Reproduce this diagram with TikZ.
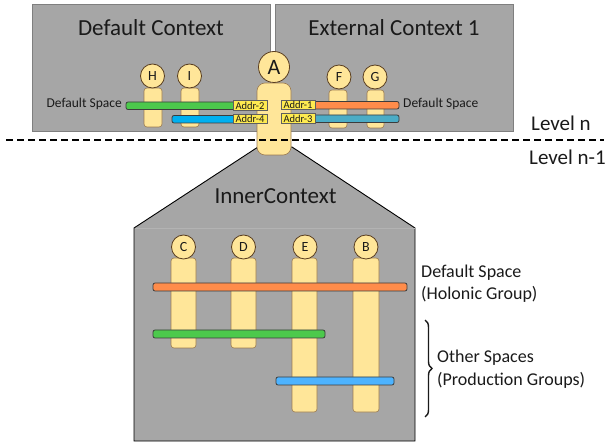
\documentclass[tikz,border=0pt]{standalone}
\usepackage{fontspec}
\setmainfont{Carlito}
\usetikzlibrary{decorations.pathreplacing}
\definecolor{ctxfill}{HTML}{A6A6A6}
\definecolor{ctxline}{HTML}{7F7F7F}
\definecolor{bodyfill}{HTML}{FFE699}
\definecolor{bodyline}{HTML}{9C7B50}
\definecolor{headline}{HTML}{5A3E20}
\definecolor{grn}{HTML}{4CC94C}
\definecolor{org}{HTML}{FF8C4A}
\definecolor{cyn}{HTML}{00B0F0}
\definecolor{teal}{HTML}{4BACC6}
\definecolor{sky}{HTML}{4DB3FF}
\definecolor{addrfill}{HTML}{FFEB50}
\definecolor{ink}{HTML}{1A1A1A}
\tikzset{
  ctx/.style={draw=ctxline, fill=ctxfill, line width=0.8pt},
  body/.style={draw=bodyline, fill=bodyfill, line width=0.6pt, rounded corners=3pt},
  bigbody/.style={draw=bodyline, fill=bodyfill, line width=0.6pt, rounded corners=8pt},
  head/.style={circle, draw=headline, fill=bodyfill, line width=0.8pt, inner sep=0pt,
    minimum size=24pt, font=\fontsize{14}{14}\selectfont, text=ink},
  bar/.style={draw=ink!85, line width=0.8pt, rounded corners=2pt},
  addr/.style={draw=ink!70, fill=addrfill, line width=0.6pt, inner sep=0pt,
    minimum width=34pt, minimum height=9.5pt, font=\fontsize{10.5}{10.5}\selectfont, text=ink},
  lbl/.style={text=ink, inner sep=0pt},
}
\begin{document}
\begin{tikzpicture}[x=1pt, y=-1pt]
\useasboundingbox (0,0) rectangle (613,443);

% ---- level n: two contexts ----
\path[ctx] (32,4) rectangle (270,131);
\path[ctx] (275,4) rectangle (513,131);
\node[lbl, font=\fontsize{23}{23}\selectfont] (dctx) at (151,28) {Default Context};
\node[lbl, font=\fontsize{23}{23}\selectfont] (ectx) at (394,28) {External Context 1};

% ---- inner context (house shape) ----
\path[draw=black, fill=ctxfill, line width=0.9pt]
  (258,147) -- (292,147) -- (415,228) -- (415,441) -- (134,441) -- (134,228) -- cycle;
\draw[ctxfill!85!white, line width=0.6pt] (134.5,228.5) -- (414.5,228.5);
\node[lbl, font=\fontsize{23}{23}\selectfont] (ictx) at (275.5,196) {InnerContext};

% ---- agents in the upper contexts ----
\path[body] (144,88) rectangle (162,127);
\path[body] (181,88) rectangle (199,127);
\path[body] (329,90) rectangle (347,128);
\path[body] (367,90) rectangle (384,128);
\node[head] (H) at (152.5,76) {H};
\node[head] (I) at (189.5,76) {I};
\node[head] (F) at (339,77) {F};
\node[head] (G) at (375,77) {G};

% spaces of level n
\path[bar, fill=grn] (126,102) rectangle (240,109.5);
\path[bar, fill=cyn] (172,115.5) rectangle (240,123);
\path[bar, fill=org] (305,101.5) rectangle (399,109);
\path[bar, fill=teal] (305,115) rectangle (399,122.5);
\node[lbl, font=\fontsize{13.5}{13.5}\selectfont, anchor=east] (dsl) at (122,104) {Default Space};
\node[lbl, font=\fontsize{13.5}{13.5}\selectfont, anchor=west] (dsr) at (403,104) {Default Space};

% ---- agent A, member of both levels ----
\path[bigbody] (257,83) rectangle (291,155);
\node[head, minimum size=31pt, font=\fontsize{22}{22}\selectfont] (A) at (274,67) {A};
\node[addr] (a2) at (250,105.5) {Addr-2};
\node[addr] (a4) at (250,119) {Addr-4};
\node[addr] (a1) at (298,105) {Addr-1};
\node[addr] (a3) at (298,118.5) {Addr-3};

% ---- level separator ----
\draw[black, line width=1.3pt, dash pattern=on 7pt off 4pt] (6,140) -- (604,140);
\node[lbl, font=\fontsize{21}{21}\selectfont, anchor=west] (lvn) at (531,123) {Level n};
\node[lbl, font=\fontsize{21}{21}\selectfont, anchor=west] (lvn1) at (529,157) {Level n-1};

% ---- inner agents ----
\path[body] (171,258) rectangle (196,348);
\path[body] (231,258) rectangle (256,348);
\path[body] (292,258) rectangle (317,412);
\path[body] (353,258) rectangle (379,412);
\path[bar, fill=org] (153,283) rectangle (407,291);
\path[bar, fill=grn] (153,330) rectangle (325,338);
\path[bar, fill=sky] (276,377) rectangle (394,385);
\node[head] (C) at (183.5,247) {C};
\node[head] (D) at (243.5,247) {D};
\node[head] (E) at (305,247) {E};
\node[head] (B) at (366,247) {B};

% ---- legend for the inner spaces ----
\node[lbl, font=\fontsize{18}{18}\selectfont, anchor=west] (ds1) at (421,273) {Default Space};
\node[lbl, font=\fontsize{18}{18}\selectfont, anchor=west] (ds2) at (421,294.5) {(Holonic Group)};
\coordinate (bt) at (425,320);
\coordinate (bb) at (425,417);
\draw[ink, line width=1.4pt, decorate, decoration={brace, amplitude=7pt}] (bt) -- (bb);
\node[lbl, font=\fontsize{18}{18}\selectfont, anchor=west] (os1) at (437,358) {Other Spaces};
\node[lbl, font=\fontsize{18}{18}\selectfont, anchor=west] (os2) at (437,380) {(Production Groups)};
\end{tikzpicture}
\end{document}
